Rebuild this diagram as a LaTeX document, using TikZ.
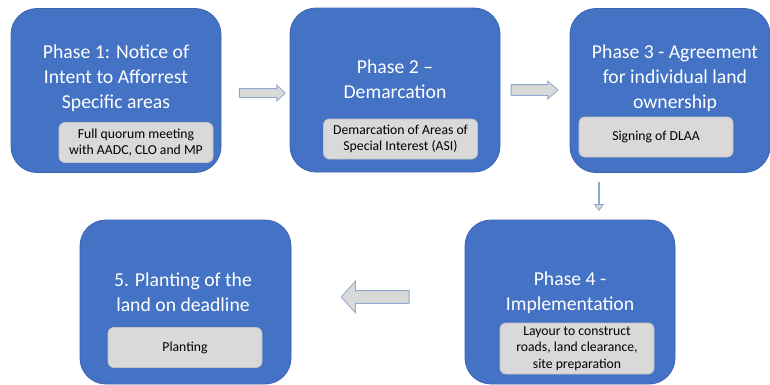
\documentclass[tikz,border=0pt]{standalone}
\usepackage{fontspec}
\setmainfont{Carlito}
\usetikzlibrary{shapes.arrows}

\definecolor{phaseblue}{HTML}{4472C4}
\definecolor{phaseline}{HTML}{3B64B0}
\definecolor{notegray}{HTML}{D9D9D9}
\definecolor{noteline}{HTML}{C3C3C3}
\definecolor{flowline}{HTML}{8FA7D2}

\tikzset{
  phase/.style={draw=phaseline, line width=0.8pt, fill=phaseblue,
    rounded corners=26pt, minimum width=210pt, minimum height=164pt, inner sep=0pt},
  phasetitle/.style={text=white, align=center, font=\fontsize{19.7}{25}\selectfont},
  note/.style={draw=noteline, line width=0.8pt, fill=notegray, rounded corners=6pt,
    minimum width=154pt, minimum height=40pt, inner sep=0pt, align=center,
    font=\fontsize{13.7}{16.5}\selectfont},
  flow/.style={single arrow, draw=flowline, fill=notegray, line width=0.8pt,
    inner xsep=0pt, single arrow head indent=0pt}
}

\begin{document}
\begin{tikzpicture}[x=1pt, y=-1pt]
  \useasboundingbox (0,0) rectangle (770,384);

  % top row
  \node [phase] (ph1) at (116,90.5) {};
  \node [phasetitle] (ph1t) at (116,78) {Phase 1: Notice of\\Intent to Afforrest\\Specific areas};
  \node [note] (ph1n) at (136,142.5) {Full quorum meeting\\with AADC, CLO and MP};

  \node [phase] (ph2) at (395,90) {};
  \node [phasetitle] (ph2t) at (395,79) {Phase 2 --\\Demarcation};
  \node [note] (ph2n) at (400.5,139) {Demarcation of Areas of\\Special Interest (ASI)};

  \node [phase, minimum width=200pt] (ph3) at (670,90.5) {};
  \node [phasetitle] (ph3t) at (675,78.5) {Phase 3 - Agreement\\for individual land\\ownership};
  \node [note] (ph3n) at (656,137) {Signing of DLAA};

  % bottom row
  \node [phase] (ph4) at (570,302) {};
  \node [phasetitle] (ph4t) at (570,292.5) {Phase 4 -\\Implementation};
  \node [note, minimum height=51pt] (ph4n) at (577,348.5) {Layour to construct\\roads, land clearance,\\site preparation};

  \node [phase, minimum width=211pt] (ph5) at (185.5,302) {};
  \node [phasetitle] (ph5t) at (183,292.5) {5. Planting of the\\land on deadline};
  \node [note] (ph5n) at (185,347.5) {Planting};

  % block arrows between phases
  \node [flow, minimum height=46pt, inner ysep=4pt, single arrow head extend=3.5pt,
    single arrow tip angle=86] (a12) at (260,93) {};
  \node [flow, minimum height=47pt, inner ysep=5pt, single arrow head extend=3.5pt,
    single arrow tip angle=82] (a23) at (531.5,90) {};
  \node [flow, shape border rotate=270, minimum height=28pt, inner ysep=3.5pt,
    single arrow head extend=4pt, single arrow tip angle=74] (a34) at (599,196) {};
  \node [flow, shape border rotate=180, minimum height=68pt, inner ysep=6pt,
    single arrow head extend=9.5pt, single arrow tip angle=96] (a45) at (378,297) {};
\end{tikzpicture}
\end{document}
